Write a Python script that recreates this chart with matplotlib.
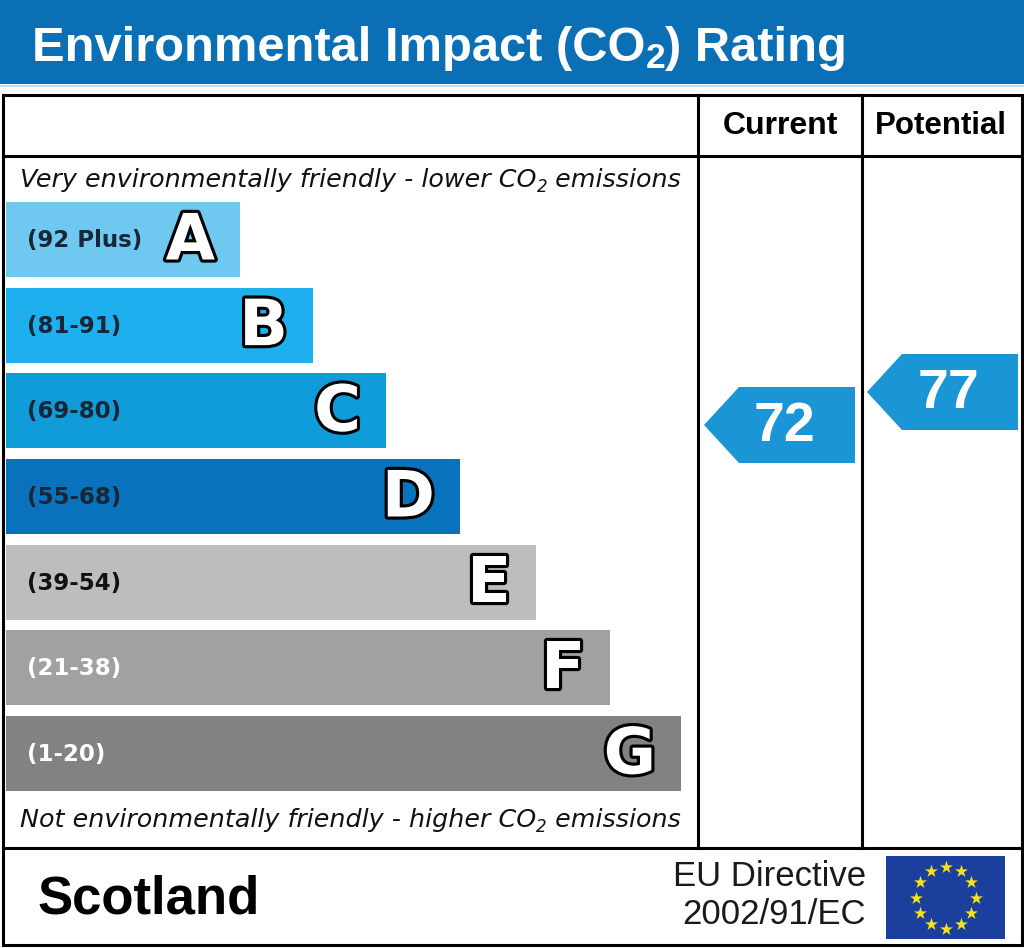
"""Environmental Impact (CO2) rating chart, Scotland EPC style"""

import numpy as np
import matplotlib
matplotlib.use("Agg")
import matplotlib.pyplot as plt
import matplotlib.patheffects as pe
from matplotlib.patches import Rectangle, Polygon

plt.rcParams['font.family'] = ['Liberation Sans', 'DejaVu Sans']

# Chart data
bands       = ["A", "B", "C", "D", "E", "F", "G"]
band_ranges = ["(92 Plus)", "(81-91)", "(69-80)", "(55-68)", "(39-54)", "(21-38)", "(1-20)"]
band_ends   = [240, 313, 386, 460, 536, 610, 681]
band_colors = ["#6fc8f0", "#1eb0ee", "#0f9cd8", "#0872bd", "#bdbdbd", "#a1a1a1", "#828282"]
range_text_colors = ["#1a2535", "#1a2535", "#1a2535", "#1a2535", "#111111", "white", "white"]
current_rating   = 72
potential_rating = 77

W, H = 1024, 948
BLUE_HEAD = "#0b6fb6"
ARROW_BLUE = "#1a96d6"
VERDANA_LIKE = "DejaVu Sans"

fig = plt.figure(figsize=(W / 100, H / 100), dpi=100)
ax = fig.add_axes([0, 0, 1, 1])
ax.set_xlim(0, W)
ax.set_ylim(H, 0)
ax.axis('off')
renderer = fig.canvas.get_renderer()


def draw_runs(x, y, runs, **kw):
    """Draw text pieces one after another (used for CO2 subscripts)"""
    for s, size, dy in runs:
        t = ax.text(x, y + dy, s, fontsize=size, va='baseline', ha='left', **kw)
        x += t.get_window_extent(renderer).width
    return x


# Header band
ax.add_patch(Rectangle((0, 0), W, 84, color=BLUE_HEAD, lw=0))
ax.plot([0, W], [85.5, 85.5], color="#bfe3f5", lw=1.5)
draw_runs(32, 61, [("Environmental Impact (CO", 35.2, 0), ("2", 25.5, 7), (") Rating", 35.2, 0)],
          color="white", fontweight="bold")

# Frame and grid lines
lw = 2.2
ax.add_patch(Rectangle((3, 95), W - 5, 850, fill=False, ec="black", lw=lw))
ax.plot([3, W - 2], [156, 156], color="black", lw=lw)
ax.plot([3, W - 2], [848, 848], color="black", lw=lw)
for xv in (698, 862):
    ax.plot([xv, xv], [95, 848], color="black", lw=lw)

ax.text(780, 126, "Current", fontsize=23, fontweight="bold", ha="center", va="center",
        color="black")
ax.text(941, 126, "Potential", fontsize=22.5, fontweight="bold", ha="center", va="center",
        color="black")

# Top / bottom captions
draw_runs(20, 187, [("Very environmentally friendly - lower CO", 18.3, 0), ("2", 12, 5),
                    (" emissions", 18.3, 0)], family=VERDANA_LIKE, style="italic",
          color="#111111")
draw_runs(20, 827, [("Not environmentally friendly - higher CO", 18.3, 0), ("2", 12, 5),
                    (" emissions", 18.3, 0)], family=VERDANA_LIKE, style="italic",
          color="#111111")

# Rating bands
band_tops = np.linspace(202, 716, len(bands))
band_h = 75
for i, (letter, rng, end, col, tcol) in enumerate(zip(bands, band_ranges, band_ends,
                                                      band_colors, range_text_colors)):
    top = band_tops[i]
    ax.add_patch(Rectangle((6, top), end - 6, band_h, color=col, lw=0))
    ax.text(27, top + band_h / 2 + 1, rng, fontsize=16.5, fontweight="bold", color=tcol,
            family=VERDANA_LIKE, ha="left", va="center")
    ax.text(end - 25, top + band_h / 2 + 2, letter, fontsize=46, fontweight="bold",
            family=VERDANA_LIKE, color="white", ha="right", va="center",
            path_effects=[pe.withStroke(linewidth=4.5, foreground="black")])


def rating_to_y(score):
    # vertical scale of the arrow column
    return 425 + (72 - score) * 6.6


def draw_arrow(x_tip, x_right, score):
    yc = rating_to_y(score)
    half = 38
    notch = 35
    pts = [(x_tip, yc), (x_tip + notch, yc - half), (x_right, yc - half),
           (x_right, yc + half), (x_tip + notch, yc + half)]
    ax.add_patch(Polygon(pts, closed=True, color=ARROW_BLUE, lw=0))
    ax.text((x_tip + notch + x_right) / 2 - 12, yc + 2, str(score), fontsize=40,
            fontweight="bold", color="white", ha="center", va="center")


draw_arrow(704, 855, current_rating)
draw_arrow(867, 1018, potential_rating)

# Footer
ax.text(37, 899, "Scotland", fontsize=38, fontweight="bold", color="black",
        ha="left", va="center")
ax.text(866, 876, "EU Directive", fontsize=25, color="#1a1a1a", ha="right", va="center")
ax.text(866, 915, "2002/91/EC", fontsize=25, color="#1a1a1a", ha="right", va="center")

# EU flag
ax.add_patch(Rectangle((886, 856), 119, 83, color="#1b3f9c", lw=0))
ang = np.linspace(0, 2 * np.pi, 12, endpoint=False)
ax.scatter(945.5 + 30 * np.cos(ang), 897.5 + 31 * np.sin(ang), marker="*", s=95,
           color="#f5e21a", lw=0, zorder=5)

fig.savefig("out.png", dpi=100)
